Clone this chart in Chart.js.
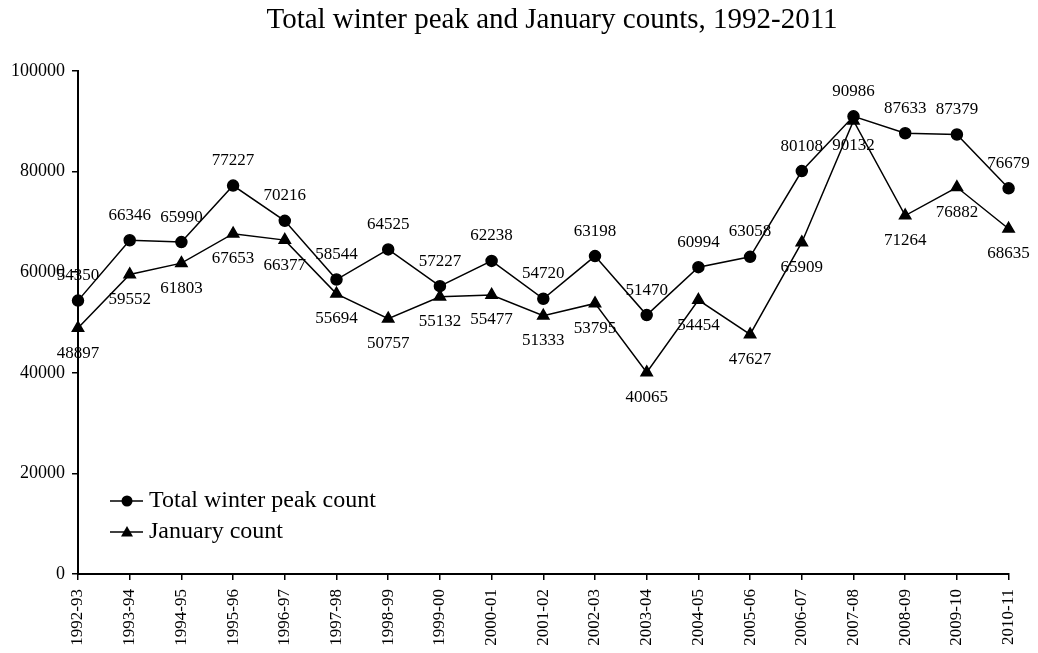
<!DOCTYPE html>
<html>
<head>
<meta charset="utf-8">
<script src="https://cdn.jsdelivr.net/npm/chart.js@4.4.1/dist/chart.umd.min.js"></script>
<style>
  html, body { margin: 0; padding: 0; background: #ffffff; }
  #wrap { width: 1038px; height: 653px; position: relative; }
</style>
</head>
<body>
<div id="wrap"><canvas id="c" width="1038" height="653"></canvas></div>
<script>
const chartTitle = "Total winter peak and January counts, 1992-2011";
const seasons = ["1992-93","1993-94","1994-95","1995-96","1996-97","1997-98","1998-99","1999-00","2000-01","2001-02","2002-03","2003-04","2004-05","2005-06","2006-07","2007-08","2008-09","2009-10","2010-11"];
const totalPeak = [54350, 66346, 65990, 77227, 70216, 58544, 64525, 57227, 62238, 54720, 63198, 51470, 60994, 63058, 80108, 90986, 87633, 87379, 76679];
const januaryCount = [48897, 59552, 61803, 67653, 66377, 55694, 50757, 55132, 55477, 51333, 53795, 40065, 54454, 47627, 65909, 90132, 71264, 76882, 68635];
const seriesNames = ["Total winter peak count", "January count"];
const yTicks = [0, 20000, 40000, 60000, 80000, 100000];

const tickFont = "Liberation Serif";
const titleFont = "Liberation Serif";

const labelPlugin = {
  id: 'labels',
  afterDatasetsDraw(chart) {
    const ctx = chart.ctx;
    ctx.save();
    ctx.fillStyle = '#000';
    ctx.font = '17px "' + tickFont + '"';
    ctx.textAlign = 'center';
    ctx.textBaseline = 'middle';
    chart.data.datasets.forEach((ds, di) => {
      const meta = chart.getDatasetMeta(di);
      meta.data.forEach((pt, i) => {
        const dy = di === 0 ? -25 : 25;
        ctx.fillText(String(ds.data[i]), pt.x, pt.y + dy);
      });
    });
    ctx.restore();
  },
  afterDraw(chart) {
    const ctx = chart.ctx;
    ctx.save();
    // title
    ctx.fillStyle = '#000';
    ctx.font = '29px "' + titleFont + '"';
    ctx.textAlign = 'center';
    ctx.textBaseline = 'alphabetic';
    ctx.fillText(chartTitle, 552, 28);
    // legend
    const rows = [501, 532];
    const styles = ['circle', 'triangle'];
    rows.forEach((y, i) => {
      ctx.strokeStyle = '#000';
      ctx.lineWidth = 1.5;
      ctx.beginPath();
      ctx.moveTo(110, y);
      ctx.lineTo(143, y);
      ctx.stroke();
      ctx.fillStyle = '#000';
      ctx.beginPath();
      if (styles[i] === 'circle') {
        ctx.arc(127, y, 5.5, 0, Math.PI * 2);
      } else {
        ctx.moveTo(127, y - 6);
        ctx.lineTo(133, y + 4.5);
        ctx.lineTo(121, y + 4.5);
        ctx.closePath();
      }
      ctx.fill();
      ctx.font = '24px "' + titleFont + '"';
      ctx.textAlign = 'left';
      ctx.textBaseline = 'middle';
      ctx.fillText(seriesNames[i], 149, y);
    });
    ctx.restore();
  }
};

new Chart(document.getElementById('c'), {
  type: 'line',
  data: {
    labels: seasons,
    datasets: [
      {
        label: seriesNames[0], data: totalPeak,
        borderColor: '#000', backgroundColor: '#000', borderWidth: 1.5,
        pointStyle: 'circle', pointRadius: 5.5, pointHoverRadius: 5.5,
        tension: 0, fill: false
      },
      {
        label: seriesNames[1], data: januaryCount,
        borderColor: '#000', backgroundColor: '#000', borderWidth: 1.5,
        pointStyle: 'triangle', pointRadius: 6.5, pointHoverRadius: 6.5,
        tension: 0, fill: false
      }
    ]
  },
  options: {
    responsive: false,
    animation: false,
    events: [],
    layout: { padding: { left: 0, right: 28, top: 71, bottom: 0 } },
    plugins: { legend: { display: false }, title: { display: false }, tooltip: { enabled: false } },
    scales: {
      x: {
        type: 'category',
        offset: false,
        afterFit(s) { s.height = 79; },
        grid: { display: true, drawOnChartArea: false, drawTicks: true, tickLength: 6, color: '#000', lineWidth: 1.5 },
        border: { display: true, color: '#000', width: 2 },
        ticks: {
          color: '#000', font: { family: tickFont, size: 17 },
          maxRotation: 90, minRotation: 90, autoSkip: false, padding: 9
        }
      },
      y: {
        type: 'linear',
        min: 0, max: 100000,
        afterFit(s) { s.width = 78; },
        afterBuildTicks(s) { s.ticks = yTicks.map(v => ({ value: v })); },
        grid: { display: true, drawOnChartArea: false, drawTicks: true, tickLength: 6, color: '#000', lineWidth: 1.5 },
        border: { display: true, color: '#000', width: 2 },
        ticks: {
          color: '#000', font: { family: tickFont, size: 18 }, padding: 7,
          callback: v => String(v)
        }
      }
    }
  },
  plugins: [labelPlugin]
});
</script>
</body>
</html>
